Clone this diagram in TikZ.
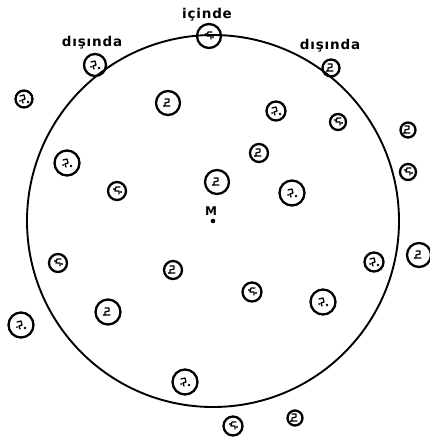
\documentclass[tikz,border=0pt]{standalone}
\usepackage{fontspec}
\setmainfont{DejaVu Sans}
\newfontfamily\lblfont[LetterSpace=6]{DejaVu Sans Bold}
\begin{document}
\begin{tikzpicture}[x=1pt,y=-1pt,
  cellbase/.style={circle,draw,line width=2.3pt,inner sep=0pt},
  cellA/.style={cellbase,minimum size=#1,
    path picture={\draw[line width=1.3pt,line join=round,line cap=round]
      ([shift={(-4,-3)}]path picture bounding box.center) -- ++(4,-1) -- ++(1,4) -- ++(-3,1) -- ++(1,3);
      \fill ([shift={(4,3)}]path picture bounding box.center) circle (1.3)
            ([shift={(-4,2)}]path picture bounding box.center) circle (1);}},
  cellB/.style={cellbase,minimum size=#1,
    path picture={\draw[line width=1.3pt,line join=round,line cap=round]
      ([shift={(-3,-4)}]path picture bounding box.center) -- ++(4,0) -- ++(0,3) -- ++(-4,1) -- ++(0,3) -- ++(5,0);
      \fill ([shift={(-4,3)}]path picture bounding box.center) circle (1.1);}},
  cellC/.style={cellbase,minimum size=#1,
    path picture={\draw[line width=1.3pt,line join=round,line cap=round]
      ([shift={(3,-4)}]path picture bounding box.center) -- ++(-4,0) -- ++(-1,4) -- ++(4,0) -- ++(0,3);
      \fill ([shift={(-3,-2)}]path picture bounding box.center) circle (1.1)
            ([shift={(4,1)}]path picture bounding box.center) circle (1.1);}},
  lbl/.style={font=\lblfont\fontsize{13.5}{14}\selectfont,inner sep=0pt}
]
\useasboundingbox (0,0) rectangle (429,443);
% big circle
\node[circle,draw,line width=1.9pt,minimum size=372pt,inner sep=0pt] (big) at (213,221) {};
\fill (213,221) circle (2.3);
\coordinate (mdot) at (213,221);
\node[font=\bfseries\fontsize{12}{12}\selectfont,inner sep=0pt] (mlabel) at (211,211) {M};

% border cells with labels
\node[cellA=22pt] (b1) at (95,65) {};
\node[cellC=24pt] (b2) at (209,36) {};
\node[cellB=17pt] (b3) at (331,68) {};
\node[lbl] (l1) at (92,43) {dışında};
\node[lbl] (l2) at (207,15) {içinde};
\node[lbl] (l3) at (330,46) {dışında};

% inside cells
\node[cellB=24pt] (c5) at (168,103) {};
\node[cellA=19pt] (c6) at (276,111) {};
\node[cellC=16pt] (c7) at (338,122) {};
\node[cellA=25pt] (c9) at (67,163) {};
\node[cellB=18pt] (c10) at (259,153) {};
\node[cellC=18pt] (c12) at (117,191) {};
\node[cellB=24pt] (c13) at (217,182) {};
\node[cellA=25pt] (c14) at (292,193) {};
\node[cellC=18pt] (c16) at (58,263) {};
\node[cellB=18pt] (c17) at (173,270) {};
\node[cellA=19pt] (c18) at (374,262) {};
\node[cellC=19pt] (c20) at (252,292) {};
\node[cellA=25pt] (c21) at (323,302) {};
\node[cellB=25pt] (c22) at (108,312) {};
\node[cellA=25pt] (c24) at (185,382) {};

% outside cells
\node[cellA=17pt] (o4) at (24,99) {};
\node[cellB=15pt] (o8) at (408,130) {};
\node[cellC=16pt] (o11) at (408,172) {};
\node[cellB=24pt] (o19) at (419,255) {};
\node[cellA=25pt] (o23) at (21,325) {};
\node[cellC=19pt] (o25) at (233,426) {};
\node[cellB=15pt] (o26) at (295,418) {};
\end{tikzpicture}
\end{document}
